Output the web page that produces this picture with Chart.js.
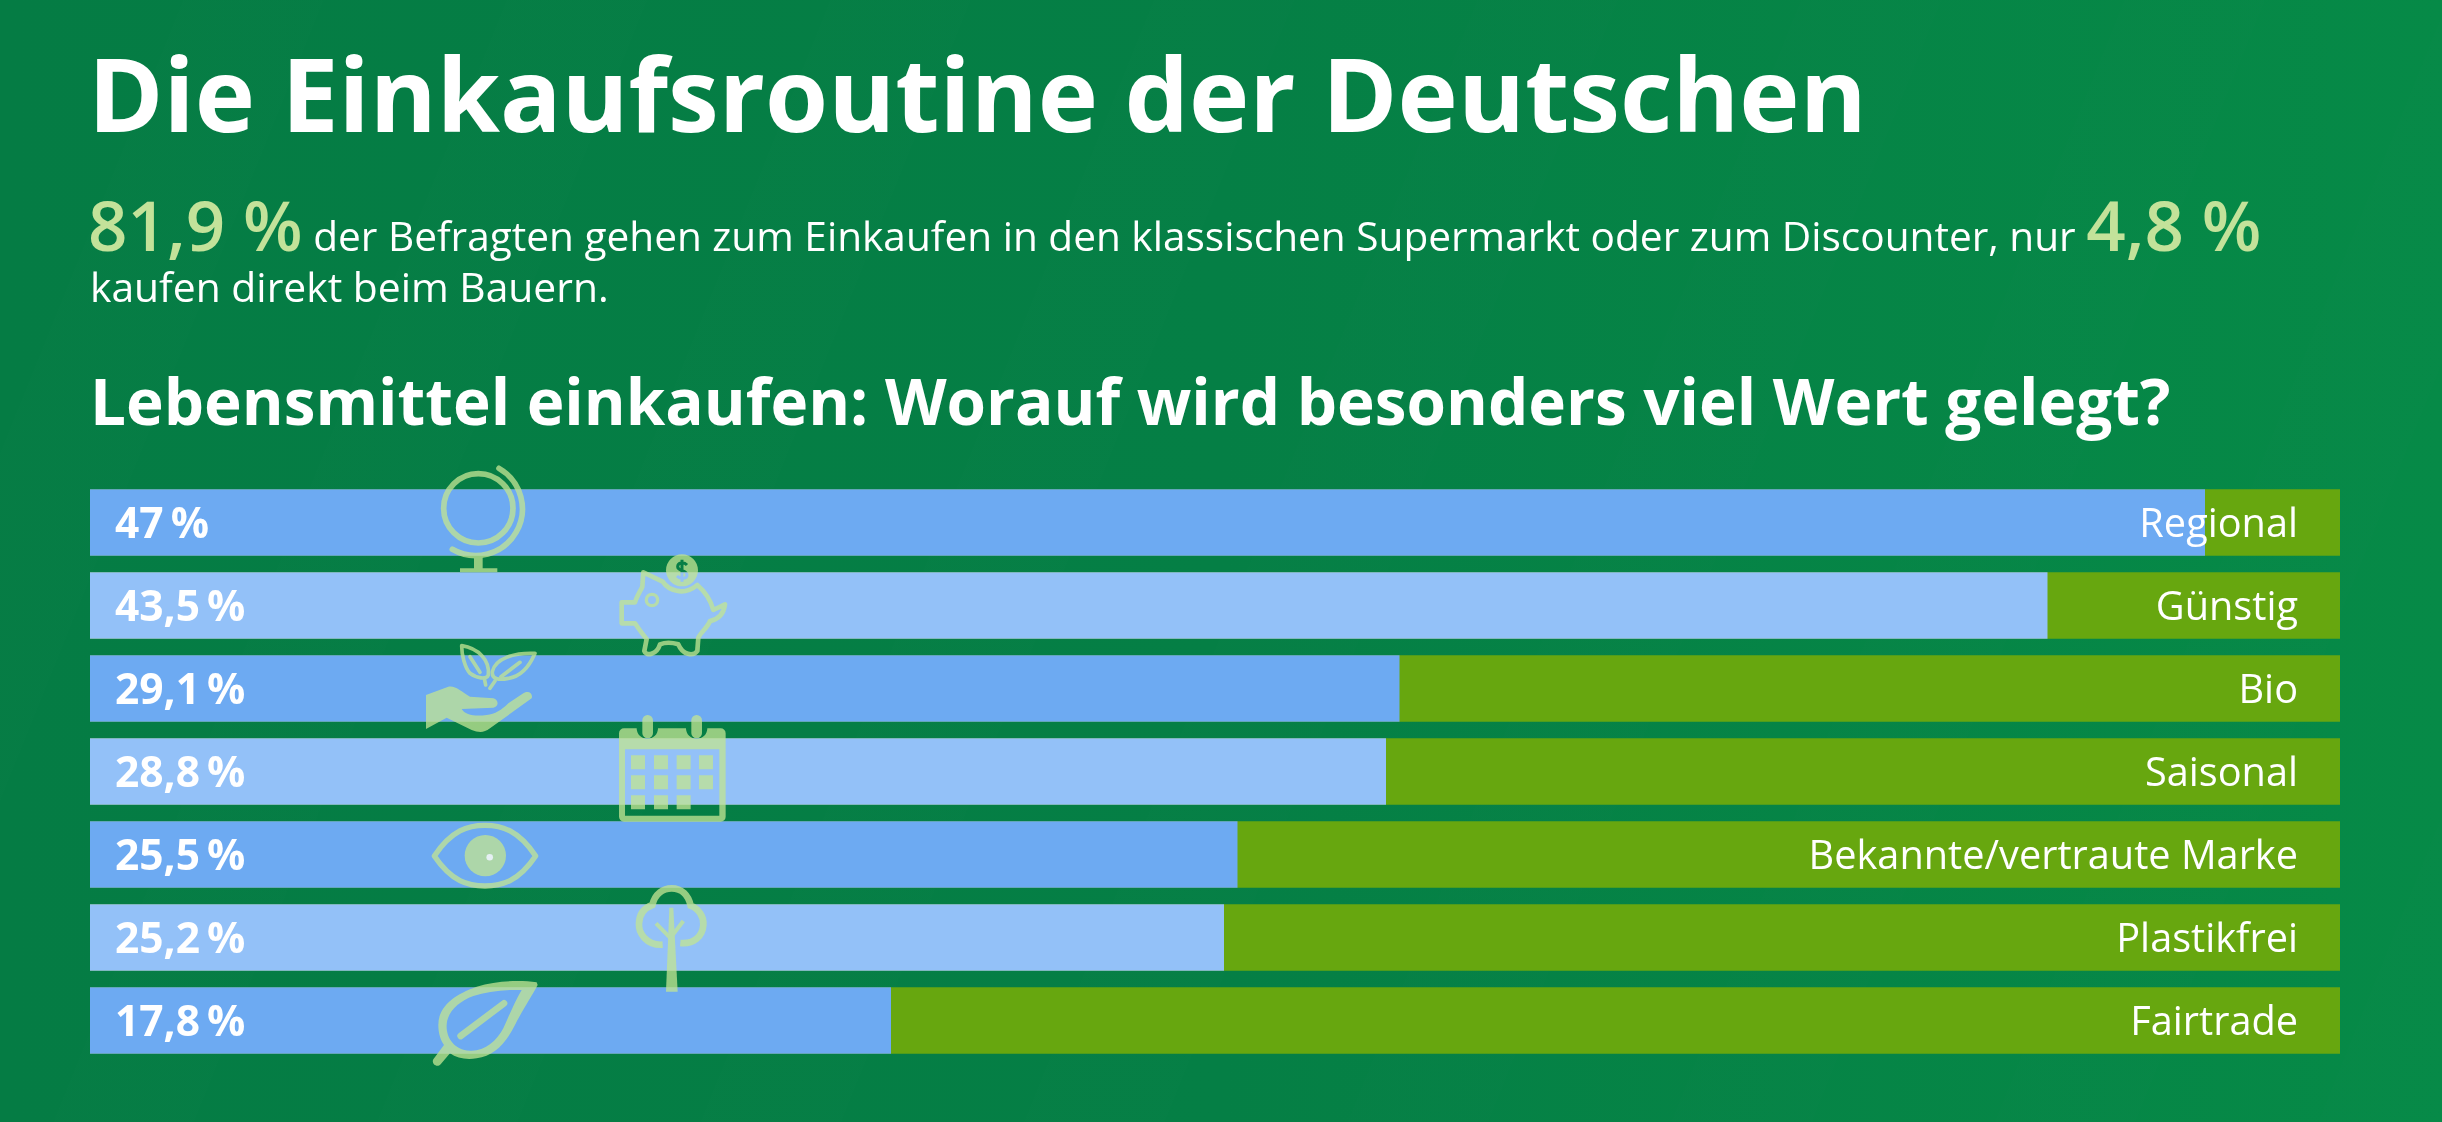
<!DOCTYPE html>
<html>
<head>
<meta charset="utf-8">
<style>
    html, body {
        margin: 0;
        width: 2442px;
        height: 1122px;
        overflow: hidden;
        background: linear-gradient(90deg, #057c44 0%, #057f45 50%, #068a47 100%);
        font-family: 'Open Sans', sans-serif;
        color: #ffffff;
    }
    .stripes {
        position: absolute; left: 0; top: 0; width: 2442px; height: 1122px;
        background: repeating-linear-gradient(112deg, rgba(255,255,255,0) 0 170px, rgba(255,255,255,0.005) 170px 300px);
    }
    #mainChart { position: absolute; left: 0; top: 0; }
    #icons { position: absolute; left: 0; top: 0; }
    .line { position: absolute; white-space: nowrap; line-height: 1; }
    #title { left: 88px; top: 42px; font-size: 102px; font-weight: 700; }
    #intro1 { left: 88px; top: 190px; font-size: 40.6px; font-weight: 400; }
    #intro2 { left: 90px; top: 266px; font-size: 40.8px; font-weight: 400; }
    #heading { left: 90px; top: 369px; font-size: 63.8px; font-weight: 700; }
    .hi { color: #c3e29a; font-size: 69px; font-weight: 600; }
</style>
</head>
<body>
<div class="stripes"></div>
<canvas id="mainChart" width="2442" height="1122"></canvas>
<div class="line" id="title">Die Einkaufsroutine der Deutschen</div>
<div class="line" id="intro1"><span class="hi">81,9 %</span> der Befragten gehen zum Einkaufen in den klassischen Supermarkt oder zum Discounter, nur <span class="hi">4,8 %</span></div>
<div class="line" id="intro2">kaufen direkt beim Bauern.</div>
<div class="line" id="heading">Lebensmittel einkaufen: Worauf wird besonders viel Wert gelegt?</div>

<svg id="icons" width="2442" height="1122" viewBox="0 0 2442 1122" fill="none">
    <defs>
        <mask id="coinMask" maskUnits="userSpaceOnUse" x="0" y="0" width="400" height="400">
            <rect width="400" height="400" fill="#fff"/>
            <path d="M231,60 C222,50 203,52 203,65 C203,80 231,74 231,90 C231,102 211,104 201,93 M216,44 V110" stroke="#000" stroke-width="9" fill="none"/>
        </mask>
    </defs>
    <!-- globe -->
    <g transform="translate(425,455) scale(.3333)" opacity=".77" stroke="#c1e494" stroke-width="17" stroke-linecap="round">
        <circle cx="160" cy="160" r="104"/>
        <path d="M222,40 A140,140 0 1 1 82,283"/>
        <path d="M147,305 H173 V340 H217 V351 H105 V340 H147 Z" fill="#c1e494" stroke="none"/>
    </g>
    <!-- piggy bank -->
    <g transform="translate(610,545) scale(.3333)" opacity=".77">
        <circle cx="216" cy="76" r="48" fill="#c1e494" mask="url(#coinMask)"/>
        <path d="M100,82 L158,110 C175,135 220,155 262,120 C285,140 302,165 310,195 L345,178 C342,200 330,222 300,228 C295,245 272,262 265,278 L262,318 C250,335 218,330 205,298 C185,292 165,292 150,298 C140,330 108,335 103,318 L110,282 C95,265 85,250 75,235 H35 V172 H75 C80,155 90,140 97,125 Z" stroke="#c1e494" stroke-width="14" stroke-linejoin="round"/>
        <circle cx="126" cy="165" r="17" stroke="#c1e494" stroke-width="10"/>
    </g>
    <!-- hand with leaves -->
    <g transform="translate(415,635) scale(.3333)" opacity=".77" stroke="#c1e494" stroke-width="11" stroke-linecap="round" stroke-linejoin="round">
        <path d="M140,32 C190,40 225,75 220,120 C215,135 185,130 165,115 C150,100 140,60 140,32 Z"/>
        <path d="M165,65 L195,112 M208,130 L212,150"/>
        <path d="M360,55 C300,52 240,70 232,110 C230,135 255,135 280,130 C320,125 345,90 360,55 Z"/>
        <path d="M258,125 L315,82 M240,138 L225,160"/>
        <path d="M33,180 L100,155 C120,150 140,170 165,185 L235,190 C252,195 252,215 235,218 L140,222 C150,240 180,245 215,240 C240,238 260,225 280,205 L325,175 C340,165 355,175 350,190 L225,280 C205,295 190,292 170,285 L95,248 L33,282 Z" fill="#c1e494" stroke="none"/>
    </g>
    <!-- calendar -->
    <g transform="translate(610,710) scale(.3333)" opacity=".77" fill="#c1e494">
        <path fill-rule="evenodd" d="M42,55 H80 A32,32 0 0 0 144,55 H228 A32,32 0 0 0 292,55 H332 A15,15 0 0 1 347,70 V320 A15,15 0 0 1 332,335 H42 A15,15 0 0 1 27,320 V70 A15,15 0 0 1 42,55 Z M45,118 V317 H328 V118 Z"/>
        <rect x="97" y="15" width="32" height="70" rx="16"/>
        <rect x="244" y="15" width="32" height="70" rx="16"/>
        <path d="M63,136 h42 v42 h-42 Z M132,136 h42 v42 h-42 Z M200,136 h42 v42 h-42 Z M267,136 h42 v42 h-42 Z M63,196 h42 v42 h-42 Z M132,196 h42 v42 h-42 Z M200,196 h42 v42 h-42 Z M267,196 h42 v42 h-42 Z M63,256 h42 v42 h-42 Z M132,256 h42 v42 h-42 Z M200,256 h42 v42 h-42 Z"/>
    </g>
    <!-- eye -->
    <g transform="translate(425,810) scale(.3333)" opacity=".77">
        <path d="M28,138 C80,60 130,46 180,46 C230,46 280,60 332,138 C280,215 230,228 180,228 C130,228 80,215 28,138 Z" stroke="#c1e494" stroke-width="16" stroke-linejoin="round"/>
        <circle cx="181" cy="137" r="62" fill="#c1e494"/>
    </g>
    <circle cx="489.7" cy="857.3" r="3.3" fill="#e6f0f4"/>
    <!-- tree -->
    <g transform="translate(620,875) scale(.3333)" opacity=".77" stroke="#c1e494">
        <path d="M128,209 C80,212 55,175 57,145 C58,115 75,98 97,90 C105,55 130,40 155,40 C185,40 205,60 212,92 C235,100 252,125 250,150 C248,185 220,208 181,204" stroke-width="20"/>
        <path d="M148,98 H160 L173,350 H138 Z" fill="#c1e494" stroke="none"/>
        <path d="M108,145 L150,188 M190,138 L158,180" stroke-width="12"/>
    </g>
    <!-- leaf -->
    <g transform="translate(420,970) scale(.3333)" opacity=".77" fill="#c1e494">
        <path fill-rule="evenodd" d="M350,37 C300,30 230,32 170,50 C100,75 55,110 55,165 C55,190 62,210 72,225 L40,268 C33,280 50,295 62,283 L90,250 C110,265 140,270 170,265 C220,258 255,225 285,165 C310,115 335,80 353,45 Z M305,60 C250,58 200,65 160,78 C115,95 82,125 80,165 C78,200 100,240 150,242 C190,245 230,215 250,175 C270,130 285,95 305,60 Z"/>
        <path d="M122,198 L252,100" stroke="#c1e494" stroke-width="20" stroke-linecap="round"/>
    </g>
</svg>

<script src="https://cdn.jsdelivr.net/npm/chart.js@4"></script>
<script>
    const categories = ["Regional", "Günstig", "Bio", "Saisonal", "Bekannte/vertraute Marke", "Plastikfrei", "Fairtrade"];
    const shares = [47, 43.5, 29.1, 28.8, 25.5, 25.2, 17.8];
    const trackValues = [50, 50, 50, 50, 50, 50, 50];
    const shareColors = ["#6daaf2", "#93c1f8", "#6daaf2", "#93c1f8", "#6daaf2", "#93c1f8", "#6daaf2"];

    // percent at the start of each bar, category name at the end of the track
    const barLabels = {
        id: 'barLabels',
        afterDatasetsDraw(chart) {
            const c = chart.ctx;
            const x = chart.scales.x;
            c.save();
            c.fillStyle = "#ffffff";
            c.textBaseline = "middle";
            shares.forEach((v, i) => {
                const y = chart.scales.y.getPixelForValue(i) + 3;
                c.font = "700 42.5px 'Open Sans'";
                c.textAlign = "left";
                c.fillText(String(v).replace('.', ',') + '\u2009%', x.getPixelForValue(0) + 25, y);
                c.font = "400 39.7px 'Open Sans'";
                c.textAlign = "right";
                c.fillText(categories[i], x.getPixelForValue(50) - 42, y);
            });
            c.restore();
        }
    };

    const chart = new Chart(document.getElementById('mainChart').getContext('2d'), {
        type: 'bar',
        data: {
            labels: categories,
            datasets: [
                { label: "Anteil", data: shares, backgroundColor: shareColors, barPercentage: 0.804, categoryPercentage: 1 },
                { label: "Skala", data: trackValues, backgroundColor: "#67a70f", barPercentage: 0.804, categoryPercentage: 1 }
            ]
        },
        options: {
            indexAxis: 'y',
            responsive: false,
            animation: false,
            layout: { padding: { left: 90, right: 102, top: 481, bottom: 60 } },
            plugins: { legend: { display: false }, tooltip: { enabled: false } },
            scales: {
                x: { display: false, min: 0, max: 50, stacked: false },
                y: { display: false, stacked: true }
            }
        },
        plugins: [barLabels]
    });
</script>
</body>
</html>
